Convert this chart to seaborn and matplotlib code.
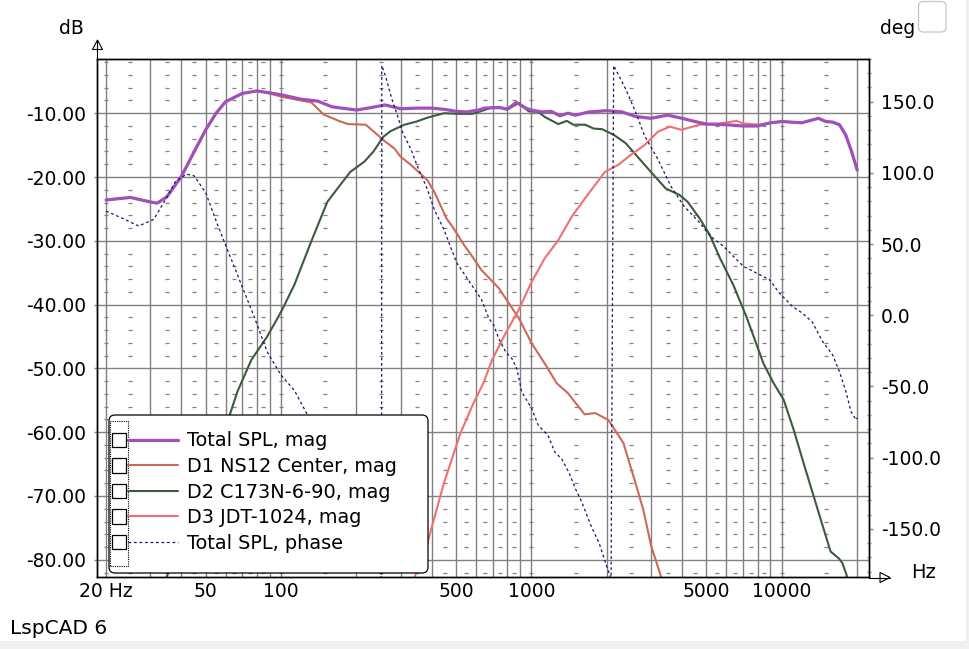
import numpy as np
import pandas as pd
import matplotlib
matplotlib.use("Agg")
import matplotlib.pyplot as plt
import seaborn as sns
from matplotlib.lines import Line2D
from matplotlib.patches import Rectangle, FancyBboxPatch, Polygon
from matplotlib.legend_handler import HandlerBase
from matplotlib.ticker import FixedLocator, FixedFormatter, NullFormatter, NullLocator

# ---- data ----
total_freq = [20, 25, 30, 32, 35, 40, 45, 50, 55, 60, 70, 80, 90, 100, 120, 140, 160, 200, 230,
              260, 300, 350, 400, 450, 500, 550, 615, 650, 750, 800, 870, 950, 1000, 1100, 1200,
              1300, 1400, 1500, 1700, 2000, 2300, 2600, 3000, 3500, 4000, 4500, 5000, 6000, 7000,
              8000, 9000, 10000, 12000, 14000, 15000, 16000, 17000, 18000, 19000, 20000]
total_db = [-23.6, -23.2, -23.9, -24.1, -23.1, -19.9, -16.0, -12.6, -10.0, -8.2, -6.9, -6.5, -6.8,
            -7.1, -7.8, -8.1, -9.0, -9.5, -9.1, -8.7, -9.3, -9.2, -9.2, -9.4, -9.7, -9.8, -9.5,
            -9.2, -9.1, -9.4, -8.3, -9.2, -9.5, -9.8, -9.7, -10.4, -10.0, -10.3, -9.8, -9.6, -9.8,
            -10.5, -10.8, -10.3, -10.8, -11.3, -11.7, -11.8, -12.0, -12.0, -11.5, -11.3, -11.5,
            -10.8, -11.3, -11.4, -11.8, -13.4, -16.0, -18.9]

d1_freq = [20, 25, 30, 32, 35, 40, 45, 50, 55, 60, 70, 80, 90, 100, 120, 132, 148, 170, 185, 218,
           243, 256, 283, 300, 330, 354, 384, 409, 458, 488, 537, 586, 632, 740, 890, 1000, 1150,
           1260, 1400, 1630, 1800, 2030, 2330, 2560, 2800, 3010, 3280, 3350]
d1_db = [-23.6, -23.2, -23.9, -24.1, -23.1, -19.9, -16.0, -12.6, -10.0, -8.2, -6.9, -6.5, -6.9,
         -7.4, -8.0, -8.3, -10.2, -11.2, -11.7, -11.8, -13.4, -14.2, -15.5, -16.8, -18.1, -19.2,
         -20.5, -22.3, -26.5, -28.0, -30.6, -32.7, -34.6, -37.4, -42.1, -46.0, -49.7, -52.3,
         -53.9, -57.2, -57.0, -58.1, -61.7, -67.0, -72.2, -77.9, -82.4, -84.0]

d2_freq = [33, 35, 62, 67, 76, 88, 95, 101, 113, 132, 153, 168, 189, 215, 234, 256, 274, 311, 348,
           384, 447, 520, 580, 615, 696, 810, 890, 975, 1065, 1132, 1280, 1385, 1470, 1640, 1770,
           1915, 2135, 2380, 2610, 3000, 3440, 3900, 4210, 4700, 5160, 5660, 6400, 7240, 8440,
           9270, 10170, 11150, 12230, 13420, 14730, 15660, 16910, 17450, 18150, 18400]
d2_db = [-86.0, -82.6, -57.6, -53.6, -48.7, -45.0, -42.7, -40.8, -36.9, -30.1, -23.9, -21.8,
         -19.2, -17.6, -16.0, -13.7, -12.8, -11.8, -11.3, -10.7, -10.0, -10.1, -10.1, -9.8, -9.1,
         -9.3, -8.4, -9.7, -9.8, -10.6, -11.7, -11.2, -11.8, -11.8, -12.4, -12.5, -13.4, -14.7,
         -16.5, -19.2, -21.8, -22.8, -23.9, -26.5, -29.1, -32.7, -36.9, -42.0, -49.2, -52.3,
         -54.9, -59.6, -64.9, -70.1, -75.3, -78.7, -79.8, -80.5, -82.4, -84.0]

d3_freq = [330, 344, 384, 447, 520, 586, 643, 696, 788, 836, 890, 1003, 1132, 1280, 1450, 1640,
           1965, 2220, 2500, 2830, 3200, 3570, 3970, 4700, 5660, 6600, 7010, 8150, 9000, 10000,
           12000, 14000, 15000, 16000, 17000, 18000, 19000, 20000]
d3_db = [-86.0, -82.4, -77.4, -68.0, -60.2, -55.5, -52.3, -48.7, -44.5, -42.7, -40.8, -36.4,
         -32.7, -29.9, -26.2, -23.3, -19.2, -18.1, -16.5, -15.0, -12.9, -12.1, -12.6, -11.8,
         -11.6, -11.2, -11.6, -11.8, -11.5, -11.3, -11.5, -10.8, -11.3, -11.4, -11.8, -13.4,
         -16.0, -18.9]

phase_freq = [20, 23, 27, 31, 34, 38, 42, 45, 50, 56, 61, 69, 78.5, 88, 100, 113, 132, 160, 200,
              230, 252, 252.5, 261, 277, 292, 306, 330, 350, 384, 409, 447, 503, 570, 632, 676,
              708, 740, 789, 835, 874, 915, 1003, 1065, 1165, 1240, 1320, 1410, 1500, 1590, 1740,
              1860, 1965, 2060, 2080, 2130, 2380, 2610, 2830, 3200, 3600, 4060, 4700, 5180, 5840,
              7010, 7900, 8920, 9770, 11010, 12070, 13250, 14540, 15950, 16980, 18030, 18900,
              19800, 20000]
phase_deg = [73.2, 68.5, 62.7, 67.4, 79.1, 94.4, 99.1, 97.9, 86.1, 62.7, 46.3, 22.7, -2.1, -25.6,
             -42.1, -52.7, -74.9, -100.0, -135.0, -162.0, -184.6, 175.4, 168.3, 151.9, 140.1,
             128.4, 116.7, 104.9, 88.5, 74.4, 60.3, 36.8, 22.7, 11.0, -2.1, -7.0, -16.3, -25.6,
             -30.3, -37.4, -53.8, -65.5, -77.3, -84.4, -96.1, -100.8, -110.2, -121.9, -131.3,
             -148.9, -159.5, -172.4, -183.0, -184.6, 175.4, 158.9, 142.5, 126.1, 109.6, 90.8,
             76.8, 65.0, 55.6, 48.6, 34.5, 29.8, 25.1, 15.7, 6.3, 1.6, -4.8, -18.3, -27.7, -39.4,
             -53.5, -67.6, -73.5, -72.0]

labels = ["Total SPL, mag", "D1 NS12 Center, mag", "D2 C173N-6-90, mag",
          "D3 JDT-1024, mag", "Total SPL, phase"]
colors = ["#a050b8", "#cc6a58", "#3e5a3e", "#f07070", "#1c1070"]

db_ticks = [-80, -70, -60, -50, -40, -30, -20, -10]
deg_ticks = [-150, -100, -50, 0, 50, 100, 150]
freq_labeled = [20, 50, 100, 500, 1000, 5000, 10000]
freq_labels = ["20 Hz", "50", "100", "500", "1000", "5000", "10000"]

# ---- figure ----
sns.set_theme(style="white")
plt.rcParams["font.family"] = ["DejaVu Sans"]
plt.rcParams["text.color"] = "black"
plt.rcParams["legend.labelcolor"] = "black"
FS = 13.5
W, H = 970, 649
fig = plt.figure(figsize=(W / 100, H / 100), dpi=100)
fig.patch.set_facecolor("white")

L, R, T, B = 97, 869, 59, 577
ax = fig.add_axes([L / W, 1 - B / H, (R - L) / W, (B - T) / H])
ax.set_facecolor("white")
ax.set_xscale("log")
ax.set_xlim(18.4, 22300)
ax.set_ylim(-82.7, -1.5)

grid_col = "#808080"
grid_freqs = [m * d for d in (10, 100, 1000, 10000) for m in range(1, 10) if 20 <= m * d <= 20000]
for f in grid_freqs:
    ax.axvline(f, color=grid_col, lw=1.0, zorder=0.5)
for v in db_ticks:
    ax.axhline(v, color=grid_col, lw=1.0, zorder=0.5)

# short dashes of the minor grid
dash_freqs = [20] + [(m + 0.5) * d for d in (10, 100, 1000, 10000) for m in range(1, 9)] + [100, 1000, 10000]
dash_freqs = [f for f in dash_freqs if 19 < f < 21000]
minor_db = [v for v in range(-82, 0, 2) if v % 10 != 0]
dx, dy = np.meshgrid(dash_freqs, minor_db)
ax.plot(dx.ravel(), dy.ravel(), ls="none", marker="_", ms=3.2, mew=0.9, color=grid_col, zorder=0.6)

series = [(d1_freq, d1_db, colors[1]), (d2_freq, d2_db, colors[2]), (d3_freq, d3_db, colors[3])]
for fq, vals, c in series:
    sns.lineplot(x=fq, y=vals, ax=ax, color=c, lw=1.5, sort=False, estimator=None, zorder=2)
sns.lineplot(x=total_freq, y=total_db, ax=ax, color=colors[0], lw=2.3, sort=False,
             estimator=None, zorder=3)

ax2 = ax.twinx()
ax2.set_ylim(-183.8, 179.5)
sns.lineplot(x=phase_freq, y=phase_deg, ax=ax2, color=colors[4], lw=0.9, sort=False,
             estimator=None, linestyle=(0, (2.2, 2.2)), zorder=4)
ax.set_xlim(18.4, 22300)

ax.xaxis.set_major_locator(FixedLocator(freq_labeled))
ax.xaxis.set_major_formatter(FixedFormatter(freq_labels))
ax.xaxis.set_minor_locator(NullLocator())
ax.xaxis.set_minor_formatter(NullFormatter())
ax.set_yticks(db_ticks)
ax.set_yticklabels([f"{v:.2f}" for v in db_ticks])
ax.tick_params(axis="x", which="both", length=0, pad=3.5, labelsize=FS, colors="black")
ax.tick_params(axis="y", length=2, width=1, color=grid_col, pad=6, labelsize=FS, labelcolor="black")
ax.grid(False)
for s in ax.spines.values():
    s.set_color("black")
    s.set_linewidth(1.0)

ax2.set_yticks(deg_ticks)
ax2.set_yticklabels([f"{v:.1f}" for v in deg_ticks])
ax2.set_yticks(list(range(-180, 181, 10)), minor=True)
ax2.tick_params(axis="y", which="major", length=3, width=1, color=grid_col, pad=5.5,
                labelsize=FS, labelcolor="black")
ax2.tick_params(axis="y", which="minor", length=3, width=1, color=grid_col, direction="inout")
ax2.grid(False)
ax.set_xlabel("")
ax.set_ylabel("")
ax2.set_ylabel("")
for s in ax2.spines.values():
    s.set_color("black")
    s.set_linewidth(1.0)


# ---- decorations in pixel coordinates ----
def px(x, y):
    return (x / 100.0, (H - y) / 100.0)


tr = fig.dpi_scale_trans
fig.patches.append(Rectangle(px(966, H), (W - 966) / 100, H / 100, transform=tr,
                             facecolor="#f0f0f0", edgecolor="none", zorder=0))
fig.patches.append(Rectangle(px(0, H), W / 100, (H - 641) / 100, transform=tr,
                             facecolor="#f0f0f0", edgecolor="none", zorder=0))
fig.patches.append(FancyBboxPatch(px(918.5, 32), 0.275, 0.305, transform=tr,
                                  boxstyle="round,pad=0,rounding_size=0.05",
                                  facecolor="white", edgecolor="#c4c4c4", lw=0.9, zorder=2))

# axis arrows
fig.lines.append(Line2D([0.97, 0.97], [(H - 40) / 100, (H - T) / 100], transform=tr,
                        color="black", lw=0.8, zorder=3))
fig.patches.append(Polygon([px(92.5, 49.5), px(102.5, 49.5), px(97.5, 40)], closed=True,
                           transform=tr, facecolor="none", edgecolor="black", lw=0.8, zorder=3))
fig.lines.append(Line2D([R / 100, 890 / 100], [(H - 577.5) / 100] * 2, transform=tr,
                        color="black", lw=0.8, zorder=3))
fig.patches.append(Polygon([px(880, 572.5), px(880, 582.5), px(890, 577.5)], closed=True,
                           transform=tr, facecolor="none", edgecolor="black", lw=0.8, zorder=3))

fig.text(71 / W, 1 - 28 / H, "dB", ha="center", va="center", fontsize=FS, color="black")
fig.text(880 / W, 1 - 28 / H, "deg", ha="left", va="center", fontsize=FS, color="black")
fig.text(911 / W, 1 - 572 / H, "Hz", ha="left", va="center", fontsize=14, color="black")
fig.text(10 / W, 1 - 628 / H, "LspCAD 6", ha="left", va="center", fontsize=14.5, color="black")

# legend frame, selector column
fig.patches.append(FancyBboxPatch(px(109, 573), 3.19, 1.58, transform=tr,
                                  boxstyle="round,pad=0,rounding_size=0.06",
                                  facecolor="white", edgecolor="black", lw=0.9, zorder=6))
fig.patches.append(Rectangle(px(110, 566), 0.18, 1.45, transform=tr, facecolor="none",
                             edgecolor="black", lw=0.8, linestyle=(0, (1, 1)), zorder=7))


class CheckboxHandler(HandlerBase):
    def create_artists(self, legend, orig_handle, xdescent, ydescent, width, height,
                       fontsize, trans):
        ymid = height / 2.0 - ydescent
        s = 10.3
        box = Rectangle((-xdescent, ymid - s / 2), s, s, facecolor="white",
                        edgecolor="black", lw=0.9, transform=trans)
        line = Line2D([-xdescent + 11.5, -xdescent + width], [ymid, ymid], transform=trans)
        line.update_from(orig_handle)
        return [line, box]


LFS = 13.9
handles = [Line2D([], [], color=colors[0], lw=2.3),
           Line2D([], [], color=colors[1], lw=1.5),
           Line2D([], [], color=colors[2], lw=1.5),
           Line2D([], [], color=colors[3], lw=1.5),
           Line2D([], [], color=colors[4], lw=0.9, linestyle=(0, (2.2, 2.2)))]
leg = fig.legend(handles, labels, handler_map={Line2D: CheckboxHandler()},
                 loc="upper left", bbox_to_anchor=(112 / W, 1 - 431.5 / H),
                 bbox_transform=fig.transFigure, frameon=False, fontsize=LFS,
                 borderpad=0, borderaxespad=0, handlelength=3.4, handleheight=0.8,
                 handletextpad=0.48, labelspacing=0.34)
leg.set_zorder(8)
for t in leg.get_texts():
    t.set_color("black")

fig.savefig("out.png", dpi=100, facecolor="white")
